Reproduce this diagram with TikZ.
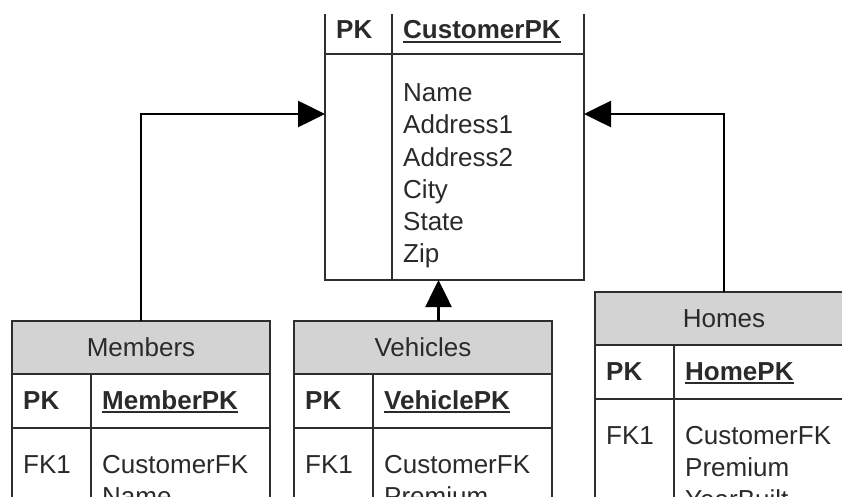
\documentclass[tikz,border=0pt]{standalone}
\usepackage{fontspec}
\setmainfont{Liberation Sans}
\usetikzlibrary{arrows.meta, positioning}
\definecolor{headc}{HTML}{D3D3D3}
\definecolor{edgec}{HTML}{2E2E2E}
\definecolor{inkc}{HTML}{2A2A2A}
\tikzset{
  cell/.style={draw=edgec, line width=1.8pt, inner sep=0pt, outer sep=0pt},
  head/.style={cell, fill=headc},
  txt/.style={font=\fontsize{26}{32}\selectfont, text=inkc, inner sep=0pt, anchor=base west},
  keyt/.style={txt, font=\fontsize{26}{32}\selectfont\bfseries},
  ttl/.style={txt, anchor=center},
  arr/.style={-{Triangle[length=27pt,width=26pt]}, line width=2.6pt},
}
\newcommand{\pkline}[1]{\setbox0=\hbox{#1}\rlap{\rule[-4pt]{\wd0}{1.8pt}}\box0}
\newcommand{\entity}[6]{% x of the left edge, y of the top edge, node prefix, title, key, columns
  \node[head, minimum width=258pt, minimum height=53pt, anchor=north west] (#3h) at (#1,#2) {};
  \node[ttl] (#3t) at (#3h) {#4};
  \node[cell, minimum width=258pt, minimum height=54pt, anchor=north west] (#3k) at (#3h.south west) {};
  \node[cell, minimum width=258pt, minimum height=200pt, anchor=north west] (#3b) at (#3k.south west) {};
  \draw[cell] ([xshift=79pt]#3k.north west) -- ([xshift=79pt]#3b.south west);
  \node[keyt] (#3pk) at (#1+11,#2+88) {PK};
  \node[keyt] (#3kn) at (#1+90,#2+88) {\pkline{#5}};
  \node[txt] (#3fk) at (#1+11,#2+152) {FK1};
  \foreach \c [count=\i] in {#6} {
    \node[txt] (#3c\i) at (#1+90,{#2+152+32*(\i-1)}) {\c};
  }
}

\begin{document}
\begin{tikzpicture}[x=1pt, y=-1pt]
\useasboundingbox (0,0) rectangle (842,497);
\clip (0,0) rectangle (842,497);

% ---------------- customer ----------------
\node[cell, minimum width=259pt, minimum height=226pt, anchor=north west] (cusb) at (325,54) {};
\draw[cell] (cusb.north west) -- ++(0,-40);
\draw[cell] (cusb.north east) -- ++(0,-40);
\draw[cell] ([xshift=67pt]cusb.south west) -- ++(0,-266);
\node[keyt] (cuspk) at (336,39) {PK};
\node[keyt] (cuskn) at (403,39) {\pkline{CustomerPK}};
\foreach \c [count=\i] in {Name,Address1,Address2,City,State,Zip} {
  \node[txt] (cusc\i) at (403,{102+32*(\i-1)}) {\c};
}
\coordinate (cusl) at (325,114);
\coordinate (cusr) at (584,114);

% ---------------- dependent tables ----------------
\entity{12}{321}{mem}{Members}{MemberPK}{CustomerFK,Name}
\entity{294}{321}{veh}{Vehicles}{VehiclePK}{CustomerFK,Premium}
\entity{595}{292}{hom}{Homes}{HomePK}{CustomerFK,Premium,YearBuilt}

% ---------------- relations ----------------
\coordinate (vehtop) at ([xshift=15.5pt]vehh.north);
\draw[arr] (memh.north) |- (cusl);
\draw[arr] (homh.north) |- (cusr);
\draw[arr] (vehtop) -- (vehtop |- cusb.south);

\end{tikzpicture}
\end{document}
